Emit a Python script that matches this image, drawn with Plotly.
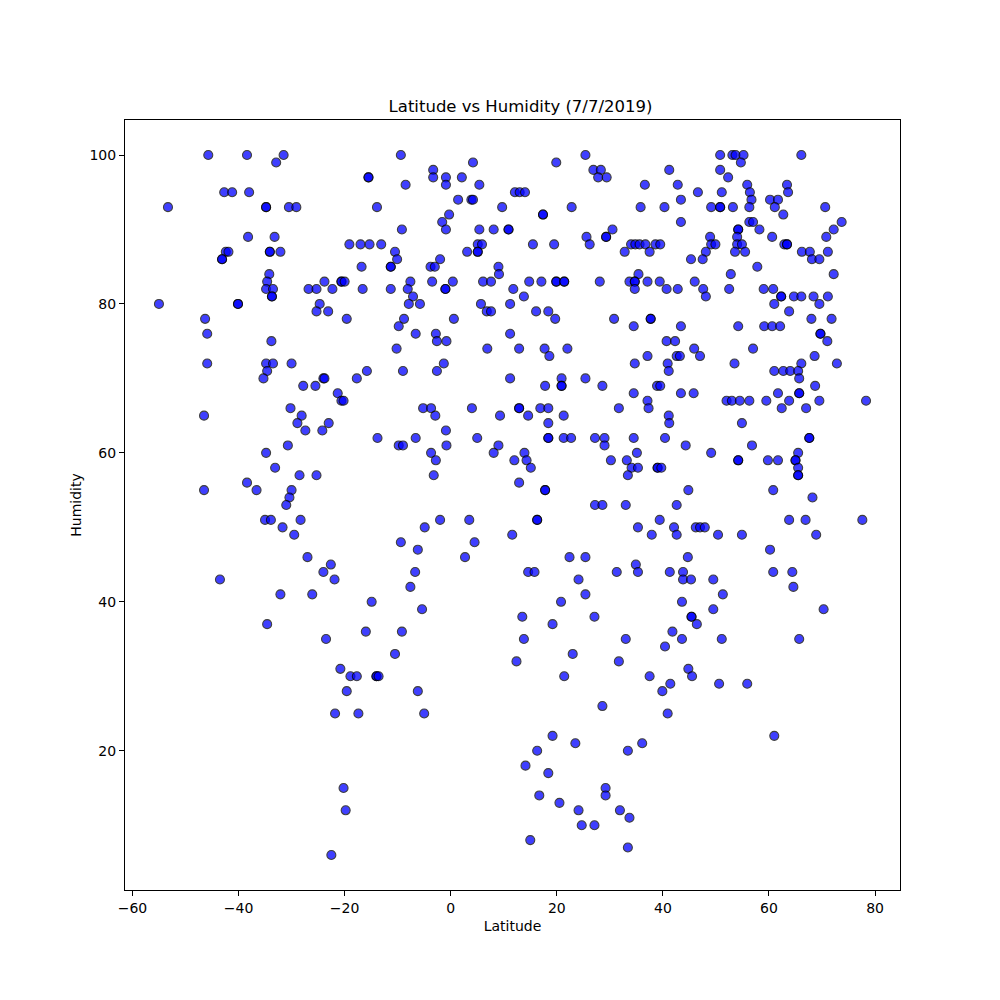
import plotly.graph_objects as go

# (latitude, humidity), grouped by region
lat_a = [-45.7,-38.4,-31.5,-32.9,-42.7,-41.2,-38.0,-53.3,-34.8,-34.8,-30.5,-29.1,-38.2,-33.2,
         -42.4,-41.9,-43.1,-43.1,-34.1,-34.1,-32.1,-34.2,-34.6,-34.8,-33.5,-33.7,-33.7,-26.8,-25.3,-23.8,
         -55.0,-40.1,-40.1,-24.7,-25.3,-46.3,-45.9,-33.8,-45.9,-34.8,-33.5,-30.0,-34.6,-35.3,-27.8,-25.5,-24.0]
hum_a = [100,100,100,99,95,95,95,93,93,93,93,93,89,89,
         87,87,86,86,87,87,87,84,83,82,82,81,81,82,82,83,
         80,80,80,80,79,78,76,75,72,72,72,72,71,70,69,69,70]

lat_b = [-46.5,-30.2,-28.1,-28.9,-27.4,-24.2,-30.7,-34.8,-33.1,-28.5,-25.3,-38.4,-46.5,-36.6,-30.0,-30.4,
         -31.0,-35.0,-33.9,-28.3,-31.7,-29.5,-27.0,-24.0,-43.5,-32.1,-26.1,-34.6,-23.5]
hum_b = [65,66,65,64,63,63,61,60,58,57,57,56,55,55,55,54,
         53,51,51,51,50,49,46,44,43,41,41,37,35]

lat_c = [-9.4,4.2,-3.3,-3.3,-0.9,-0.9,2.1,-15.5,-15.5,-8.5,5.4,12.1,13.0,14.0,
         1.4,3.9,4.2,9.7,-13.9,-0.3,-1.6,-0.9,-9.2,5.4,8.1,10.9,10.9,
         -19.1,-17.0,-15.3,-13.1,5.1,5.9,-10.5,-10.1,3.1,5.1,5.1,
         -16.8,-11.3,-11.3,-3.8,-3.0,-2.0,9.0,9.1,
         -20.6,-20.6,-20.0,-7.6,-3.5,0.4,6.1,7.6,
         -22.3,-16.6,-11.3,-8.1,-1.0,-1.0,11.8,
         -7.1,-7.9,-5.8,5.7,11.2,-23.1,6.8,7.6,
         -19.6,-8.8,-9.8,0.6,-6.6,-2.8,-2.6,-0.8,11.2,
         -10.2,6.9,12.9,-15.8,-9.0,-2.6,-1.3,-23.8,-17.7,11.2]
hum_c = [100,99,98,97,97,96,97,97,97,96,96,95,95,95,
         94,94,94,93,93,92,91,90,90,90,90,90,90,
         88,88,88,88,88,88,87,86,87,87,87,
         85,85,85,85,85,86,85,84,
         83,83,83,83,83,83,83,83,
         82,82,82,82,82,82,82,
         81,80,80,80,80,79,79,79,
         78,78,77,78,76,76,75,75,76,
         74,74,74,71,71,71,72,70,70,70]

lat_d = [-21.3,-20.6,-20.2,-5.2,-3.7,-2.9,4.0,9.3,12.9,12.9,
         -23.0,-13.8,-9.8,-9.0,-6.6,-0.9,-0.8,5.0,9.0,8.1,-3.7,-2.8,12.0,
         -3.2,12.9,-2.0,-4.9,3.5,11.6,-9.4,4.5,-6.2,2.7,
         -22.6,-21.9,-6.7,-7.6,-14.9,-5.4,-16.0,-9.2]
hum_d = [68,67,67,66,66,65,66,65,66,66,
         64,62,61,61,62,63,61,62,61,60,60,59,59,
         57,56,51,50,51,49,48,48,47,46,
         45,43,44,42,40,39,36,36]

lat_e = [-10.5,-20.8,-18.9,-17.7,-14.0,-14.0,-13.6,-19.6,-6.2,-21.8,-17.4,-5.0,-20.2,-19.8,-22.5,12.4]
hum_e = [33,31,30,30,30,30,30,28,28,25,25,25,15,12,6,32]

lat_f = [25.4,19.9,26.9,28.3,27.8,29.4,41.2,36.6,42.8,46.6,43.4,22.8,35.8,40.3,49.1,17.4,17.4,43.4,
         30.5,25.6,26.2,29.3,29.3,48.9,49.1,15.5,19.5,34.0,34.8,35.6,36.7,38.6,39.5,
         32.8,37.5,49.9,48.1,47.5,45.3,35.4,
         14.8,17.1,19.9,19.9,21.4,21.4,28.1,33.7,34.7,34.7,37.1,39.4,46.0,
         13.8,34.7,40.7,42.8,47.6,48.1,16.1,18.4,19.7,30.8,37.7,37.7,34.5,43.4,40.7,42.3,
         17.7,18.6,22.0,45.9,47.0,37.1,34.7,42.6,43.2,40.9,41.1,20.9,25.4,
         17.8,20.9,20.9,28.6,38.9,39.5]
hum_f = [100,99,98,98,97,97,98,96,96,95,94,93,93,93,93,92,92,91,
         90,89,88,89,89,89,88,88,88,88,88,88,88,88,88,
         87,87,88,87,86,86,84,
         83,83,83,83,83,83,83,83,83,83,83,83,83,
         81,82,82,82,82,81,79,79,78,78,78,78,77,77,75,75,
         74,73,74,74,73,73,72,73,73,72,71,70,70,
         69,69,69,69,69,69]

lat_g = [34.5,43.4,45.8,37.1,37.3,16.9,18.4,31.7,14.6,21.3,41.1,41.2,18.4,18.4,18.4,21.3,22.7,
         27.2,29.0,29.0,34.5,40.4,44.3,13.9,14.3,15.1,30.2,33.2,35.1,49.1,34.1,35.3,39.0,39.0,39.7,
         33.4,17.8,17.8,44.8,27.2,28.6,33.0,42.6,16.3,16.3,39.4,35.3,42.1,42.6,46.2,47.0,47.9,37.9,
         22.4,25.4,44.7,34.9,35.3,14.6,15.8,31.3,41.3,43.8,43.8,45.3,49.5,24.1,25.4,20.8,43.6,
         49.5,13.5,27.1,45.4,45.4,46.4,19.2,13.8,33.0,41.8,43.6]
hum_g = [68,68,68,67,66,66,66,66,65,65,65,64,64,62,62,62,62,
         62,62,61,62,62,61,60,59,58,59,59,60,60,58,58,58,58,58,
         57,55,55,55,53,53,53,53,51,51,51,50,50,49,50,50,50,49,
         46,46,46,45,44,44,44,44,44,44,43,43,43,43,41,40,40,
         39,38,38,38,38,37,37,35,35,36,35]

lat_h = [40.4,23.0,31.7,21.4,37.5,44.8,45.5,41.4,39.9,28.6,40.9,19.2,16.3,23.5,33.4,36.1,14.1,18.4,
         29.2,29.2,16.7,20.5,24.1,31.9,33.7,24.7,27.1,15.0,33.4]
hum_h = [34,33,32,30,30,31,30,29,28,26,25,22,20,21,20,21,18,17,
         15,14,14,13,12,12,11,10,10,8,7]

lat_i = [50.8,53.1,53.7,55.2,54.7,66.1,50.8,52.3,55.9,56.4,63.4,63.6,51.1,56.7,60.2,61.7,50.8,50.8,
         53.2,56.3,61.1,70.6,62.7,73.7,56.3,57.0,54.2,54.2,58.2,72.2,54.0,60.6,70.8,54.0,54.9,62.9,
         63.4,63.4,53.6,55.5,66.2,67.7,71.1,68.1,69.5,57.8,52.8,72.2,52.5,59.0,60.8,62.3,62.3,64.7,
         66.1,68.4,71.1,61.0,69.5,63.8,68.0,71.8,54.2,59.1,60.6,62.1,69.7,69.7,71.0,57.0,68.6,53.5,
         66.1,72.8,61.0,62.7,64.0,65.5,65.7,68.7]
hum_i = [100,100,100,100,99,100,98,97,96,95,96,95,95,94,94,94,93,93,
         93,93,93,93,92,91,91,91,90,90,90,90,89,89,89,88,88,88,
         88,88,87,87,87,87,87,86,86,85,84,84,82,82,82,81,81,81,
         81,81,81,80,80,79,78,78,77,77,77,77,76,76,75,74,73,72,
         72,72,71,71,71,71,70,69]

lat_j = [61.7,65.7,65.7,52.0,53.0,54.5,56.3,59.5,63.8,69.5,78.3,62.4,67.0,54.9,67.6,67.6,56.8,65.5,
         54.2,54.2,59.8,61.7,65.0,65.0,65.5,65.5,65.5,60.8,68.2,63.8,66.9,77.6,50.4,54.9,68.9,60.2,
         60.8,64.4,64.6,51.3,70.3,51.1,65.7,50.6,55.9,61.0]
hum_j = [68,68,68,67,67,67,67,67,67,67,67,66,66,64,62,62,61,60,
         59,59,59,59,59,59,58,57,57,55,54,51,51,51,49,49,49,47,
         44,44,42,41,39,35,35,29,29,22]

latitude = lat_a + lat_b + lat_c + lat_d + lat_e + lat_f + lat_g + lat_h + lat_i + lat_j
humidity = hum_a + hum_b + hum_c + hum_d + hum_e + hum_f + hum_g + hum_h + hum_i + hum_j

x_ticks = [-60, -40, -20, 0, 20, 40, 60, 80]
y_ticks = [20, 40, 60, 80, 100]

font = "DejaVu Sans"

fig = go.Figure(go.Scatter(
    x=latitude, y=humidity, mode="markers",
    marker=dict(size=9, color="blue", opacity=0.75,
                line=dict(color="black", width=1.1)),
    showlegend=False,
))

axis_common = dict(showline=True, mirror=True, linecolor="black", linewidth=1,
                   ticks="outside", ticklen=5, tickwidth=1, tickcolor="black",
                   showgrid=False, zeroline=False,
                   tickfont=dict(family=font, size=14, color="black"))

# the page body adds an 8px offset, so margins are adjusted to keep the plot box at 125..900 / 120..890
fig.update_layout(
    width=1000, height=1000,
    margin=dict(l=117, r=108, t=112, b=118),
    paper_bgcolor="white", plot_bgcolor="white",
    title=dict(text="Latitude vs Humidity (7/7/2019)", x=0.5125, xanchor="center",
               y=1, yref="paper", yanchor="bottom", pad=dict(b=8),
               font=dict(family=font, size=16.5, color="black")),
    xaxis=dict(range=[-61.4, 84.7], tickvals=x_ticks,
               title=dict(text="Latitude", font=dict(family=font, size=14, color="black"), standoff=6),
               **axis_common),
    yaxis=dict(range=[1.3, 104.7], tickvals=y_ticks,
               title=dict(text="Humidity", font=dict(family=font, size=14, color="black"), standoff=4),
               **axis_common),
)

fig.write_html("out.html")
